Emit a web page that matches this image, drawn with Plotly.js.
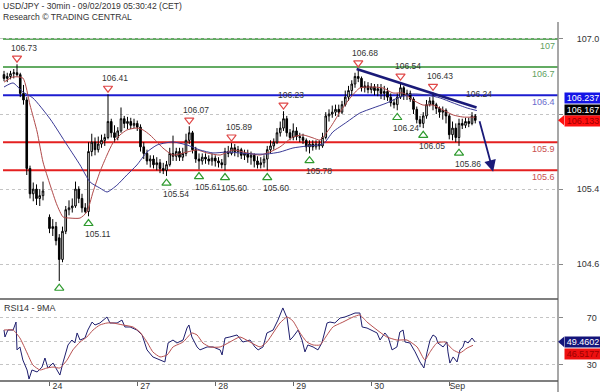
<!DOCTYPE html>
<html><head><meta charset="utf-8">
<script src="https://cdn.plot.ly/plotly-3.0.1.min.js"></script>
<style>html,body{margin:0;padding:0;background:#fff}#chart{width:600px;height:392px}</style>
</head><body><div id="chart"></div>
<script>
// x = hourly bar index (0 = Fri 23 Aug morning CET); weekend gap after bar 12
const barX = [0,1,2,3,4,5,6,7,8,9,10,11,12,
 14,15,16,17,18,19,20,21,22,23,24,25,26,27,28,29,30,31,32,33,34,35,36,37,38,39,40,41,42,43,44,45,46,47,48,49,
 50,51,52,53,54,55,56,57,58,59,60,61,62,63,64,65,66,67,68,69,70,71,72,73,74,75,76,77,78,79,
 80,81,82,83,84,85,86,87,88,89,90,91,92,93,94,95,96,97,98,99,100,101,102,103,104,105,106,107,108,109,
 110,111,112,113,114,115,116,117,118,119,120,121,122,123,124,125,126,127,128,129,130,131,132,133,134,135,136,137,138,139,
 140,141,142,143,144,145];
const barOpen = [106.62,106.58,106.60,106.63,106.64,106.62,106.42,106.35,105.62,105.35,105.40,105.30,105.33,
 105.10,104.98,105.00,104.88,104.65,104.95,105.18,105.20,105.22,105.40,105.30,105.20,105.16,105.80,105.90,105.82,105.88,105.92,105.95,106.12,106.00,105.95,106.02,106.15,106.10,106.12,106.08,106.10,106.06,105.85,105.78,105.70,105.72,105.66,105.68,105.62,
 105.60,105.66,105.78,105.75,105.80,105.74,105.78,105.92,106.00,105.82,105.72,105.70,105.74,105.72,105.70,105.73,105.70,105.68,105.66,105.80,105.78,105.84,105.80,105.82,105.76,105.78,105.74,105.76,105.70,105.66,
 105.68,105.72,105.82,105.86,105.90,106.00,106.05,106.15,106.00,105.95,106.02,105.96,105.95,105.92,105.85,105.88,105.85,105.88,105.86,105.95,106.18,106.20,106.22,106.25,106.22,106.30,106.38,106.45,106.52,106.60,
 106.58,106.48,106.50,106.46,106.49,106.45,106.47,106.42,106.44,106.38,106.32,106.30,106.38,106.48,106.40,106.42,106.36,106.25,106.14,106.10,106.18,106.30,106.34,106.30,106.26,106.22,106.24,106.18,105.98,106.05,
 105.95,106.10,106.08,106.12,106.10,106.18];
const barHigh = [106.66,106.64,106.66,106.68,106.73,106.64,106.51,106.38,105.65,105.47,105.45,105.40,105.48,
 105.13,105.08,105.05,104.92,105.00,105.22,105.28,105.30,105.48,105.43,105.35,105.25,105.90,105.99,105.95,105.96,105.98,105.99,106.41,106.15,106.08,106.06,106.27,106.18,106.17,106.16,106.15,106.13,106.09,105.90,105.82,105.76,105.76,105.74,105.72,105.68,
 105.70,105.84,105.97,105.84,105.84,105.84,105.99,106.07,106.02,105.85,105.78,105.78,105.78,105.76,105.78,105.76,105.74,105.72,105.84,105.86,105.89,105.88,105.86,105.84,105.82,105.82,105.80,105.78,105.75,105.74,
 105.76,105.86,105.92,105.94,106.05,106.12,106.23,106.18,106.04,106.10,106.06,106.00,105.99,105.94,105.92,105.92,105.92,105.92,106.00,106.22,106.25,106.29,106.30,106.30,106.34,106.45,106.50,106.56,106.64,106.68,
 106.60,106.55,106.54,106.53,106.52,106.52,106.52,106.50,106.48,106.42,106.36,106.42,106.54,106.50,106.46,106.45,106.38,106.28,106.18,106.22,106.35,106.38,106.43,106.32,106.28,106.28,106.26,106.20,106.12,106.10,
 106.15,106.15,106.16,106.16,106.22,106.20];
const barLow = [106.55,106.54,106.57,106.58,106.60,106.38,106.30,105.55,105.30,105.27,105.23,105.22,105.28,
 104.93,104.90,104.80,104.42,104.62,104.92,105.12,105.15,105.20,105.25,105.15,105.14,105.11,105.75,105.76,105.79,105.84,105.86,105.93,105.95,105.90,105.92,106.00,106.05,106.04,106.04,106.05,106.02,105.80,105.72,105.66,105.63,105.62,105.60,105.57,105.56,
 105.54,105.64,105.70,105.70,105.70,105.70,105.75,105.88,105.78,105.68,105.61,105.66,105.67,105.66,105.65,105.64,105.63,105.62,105.60,105.74,105.76,105.75,105.74,105.72,105.71,105.68,105.66,105.63,105.62,105.62,
 105.63,105.60,105.78,105.82,105.88,105.96,106.02,105.96,105.92,105.92,105.92,105.90,105.88,105.80,105.78,105.81,105.82,105.82,105.84,105.93,106.12,106.16,106.18,106.17,106.20,106.28,106.34,106.40,106.48,106.54,
 106.44,106.43,106.42,106.42,106.40,106.39,106.36,106.35,106.34,106.28,106.26,106.24,106.36,106.35,106.35,106.33,106.20,106.10,106.06,106.05,106.15,106.28,106.24,106.20,106.16,106.14,106.10,105.93,105.92,105.90,
 105.86,106.04,106.05,106.06,106.08,106.10];
const barClose = [106.58,106.60,106.63,106.64,106.62,106.42,106.35,105.62,105.35,105.40,105.30,105.33,105.38,
 104.98,105.00,104.85,104.65,104.95,105.18,105.20,105.22,105.40,105.30,105.20,105.16,105.80,105.90,105.82,105.88,105.92,105.95,106.12,106.00,105.95,106.02,106.15,106.10,106.12,106.08,106.10,106.06,105.85,105.78,105.70,105.72,105.66,105.68,105.62,105.60,
 105.66,105.78,105.75,105.80,105.74,105.78,105.92,106.00,105.82,105.72,105.70,105.74,105.72,105.70,105.73,105.70,105.68,105.66,105.80,105.78,105.84,105.80,105.82,105.76,105.78,105.74,105.76,105.70,105.66,105.68,
 105.72,105.82,105.86,105.90,106.00,106.05,106.15,106.00,105.95,106.02,105.96,105.95,105.92,105.85,105.88,105.85,105.88,105.86,105.95,106.18,106.20,106.22,106.25,106.22,106.30,106.38,106.45,106.52,106.60,106.58,
 106.48,106.50,106.46,106.49,106.45,106.47,106.42,106.44,106.38,106.32,106.30,106.38,106.48,106.40,106.42,106.36,106.25,106.14,106.10,106.18,106.30,106.34,106.30,106.26,106.22,106.24,106.18,105.98,106.05,105.95,
 106.10,106.08,106.12,106.10,106.18,106.133];

// moving averages
const maFastX = [0,2.8,5.8,8.0,10.2,12.0,14.2,16.3,18.2,20.3,23.4,25.5,27.4,29.5,31.7,33.5,35.7,37.8,40.9,42.8,44.9,47.1,48.9,52.0,56.3,59.4,62.5,66.5,70.5,74.8,78.8,81.8,84.9,88.9,92.0,95.1,97.2,100.3,103.4,106.5,109.5,112.6,116.6,119.7,122.8,125.8,128.9,132.0,135.1,138.2,141.2,145];
const maFastY = [106.54,106.595,106.584,106.296,106.009,105.689,105.443,105.23,105.102,105.091,105.091,105.156,105.369,105.582,105.763,105.891,105.977,106.03,106.051,106.03,105.977,105.902,105.838,105.763,105.795,105.817,105.785,105.763,105.817,105.785,105.763,105.795,105.849,105.955,105.977,105.945,105.923,106.051,106.222,106.371,106.478,106.488,106.478,106.424,106.424,106.35,106.296,106.296,106.243,106.19,106.168,106.167];
const maSlowX = [0,2.8,5.8,8.9,14.2,19.4,23.4,26.5,29.5,31.7,34.8,37.8,40.9,44.0,47.1,49.5,52.0,56.3,60.3,64.3,68.6,72.6,76.6,80.9,84.9,88.9,93.2,98.2,101.2,105.5,109.5,113.5,117.8,121.8,125.8,130.2,134.2,138.2,142.5,145.5];
const maSlowY = [106.488,106.531,106.435,106.371,106.147,105.87,105.657,105.475,105.411,105.369,105.443,105.55,105.657,105.795,105.87,105.891,105.902,105.87,105.817,105.785,105.795,105.785,105.774,105.774,105.795,105.838,105.859,105.881,106.009,106.115,106.211,106.264,106.318,106.382,106.414,106.403,106.371,106.318,106.264,106.237];

// RSI(14) and its 9-period MA
const rsiX = [0,0.3,1.2,2.8,3.7,4.0,4.9,5.8,7.1,7.7,8.6,10.2,11.7,12.6,13.5,15.1,16.3,17.2,18.2,19.7,20.9,21.8,22.5,23.4,24.9,25.8,27.1,28.0,29.5,31.7,32.6,34.8,36.3,37.2,38.8,40.9,42.5,44.0,45.8,48.0,49.5,50.5,52.0,53.2,55.1,56.3,56.9,57.8,59.4,60.3,62.5,64.3,66.5,67.1,68.0,69.5,71.7,73.5,75.7,77.2,78.2,79.7,80.9,82.8,84.3,85.8,87.1,88.0,88.9,90.5,91.7,92.6,93.5,95.1,96.6,97.8,99.4,100.3,101.8,103.4,104.9,106.5,108.0,109.5,110.2,111.7,113.2,114.8,115.7,117.2,118.2,119.4,120.9,121.8,122.8,123.4,124.9,126.5,128.0,129.2,130.2,131.1,132.0,132.9,133.5,135.1,136.3,136.6,137.2,138.2,139.4,140.3,141.2,141.8,142.8,144.0,144.9];
const rsiY = [59.5,53.6,59.5,59.5,66.3,42.6,45.1,34.0,25.5,17.8,25.5,23.8,28.0,35.7,27.2,31.4,25.5,21.2,32.3,46.8,51.0,48.5,57.0,51.0,52.7,59.5,66.3,63.8,65.5,70.6,65.5,65.5,68.0,62.1,62.1,59.5,55.3,42.6,36.6,34.0,32.3,48.5,51.0,48.5,51.0,61.2,63.8,53.6,45.1,42.6,45.1,45.1,42.6,38.3,52.7,53.6,55.3,49.3,51.0,45.1,42.6,45.1,57.0,59.5,68.0,78.3,69.7,51.0,53.6,59.5,51.0,40.9,46.8,45.1,42.6,48.5,65.5,66.3,65.5,69.7,70.6,72.3,74.0,74.0,62.1,61.2,59.5,57.0,51.0,57.0,53.6,42.6,45.1,57.8,59.5,49.3,48.5,40.9,32.3,27.2,40.9,51.0,55.3,53.6,48.5,45.1,49.3,40.9,31.4,36.6,32.3,42.6,45.1,50.2,48.5,52.7,49.4602];
const rsiMaX = [0,2.8,4.9,7.1,8.9,11.1,13.2,15.1,17.2,19.4,21.2,23.4,25.5,27.4,29.5,31.7,33.5,36.6,39.7,41.8,44.0,45.8,48.0,50.2,52.0,55.1,57.8,59.4,61.2,63.4,66.5,69.5,72.6,75.7,78.8,80.9,82.8,84.9,87.1,88.9,91.1,93.2,95.1,97.2,99.4,101.2,104.3,107.4,109.5,111.7,114.8,117.8,120.9,124.0,127.1,129.5,131.1,133.2,135.7,138.2,140.3,142.5,144.3];
const rsiMaY = [59.5,59.5,52.7,40.0,29.7,25.5,27.2,28.0,27.2,34.0,42.6,49.3,53.6,59.5,63.8,65.5,65.5,63.8,62.1,57.8,49.3,40.9,36.6,38.3,45.1,49.3,57.0,55.3,48.5,45.1,45.1,49.3,53.6,49.3,45.1,49.3,57.0,65.5,70.6,67.2,57.0,49.3,46.8,46.8,55.3,62.1,66.3,70.6,72.3,66.3,59.5,53.6,51.0,51.0,45.1,34.0,40.9,48.5,49.3,42.6,40.0,44.2,46.5177];

// pivots
const pivHighX = [4,32,57,70,86,109,122,132];
const pivHighY = [106.73,106.41,106.07,105.89,106.23,106.68,106.54,106.43];
const pivLowX = [17,26,50,60,68,81,94,121,129,140];
const pivLowY = [104.42,105.11,105.54,105.61,105.60,105.60,105.78,106.24,106.05,105.86];
const pivLowShown = [false,true,true,true,true,true,true,true,true,true];

// drawn levels and objects
const levels = [107, 106.7, 106.4, 105.9, 105.6];
const levelText = ['107','106.7','106.4','105.9','105.6'];
const trendX = [108.5,145.4];
const trendY = [106.68,106.27];
const trendLabel = '106.24';
const arrowX = [146.2,150.5];
const arrowY = [106.14,105.585];

// axis ticks (labels under the value tags are hidden in the original)
const xTickVals = [14,41,65,89,113,137];
const xTickText = ['24','27','28','29','30','Sep'];
const yTickVals = [104.6,105.4,106.2,107.0];
const yTickText = ['104.6','105.4','','107.0'];
const rsiTickVals = [30,50,70];
const rsiTickText = ['30','','70'];

const lastPrice = barClose[barClose.length-1];
const lastFast = maFastY[maFastY.length-1];
const lastSlow = maSlowY[maSlowY.length-1];
const lastRsi = rsiY[rsiY.length-1];
const lastRsiMa = rsiMaY[rsiMaY.length-1];

const FONT = 'Liberation Sans, Arial, sans-serif';
const GREEN='#2f8f2f', BLUE='#1c1cd0', RED='#e42020', NAVY='#1a1a78';
const levelColors = [GREEN,GREEN,BLUE,RED,RED];
const levelTextColors = ['#5f9f5f','#5f9f5f','#6a6acc','#c95050','#c95050'];
const levelWidths = [1.5,1.5,1.8,2,2];

const traces = [
 {type:'candlestick', x:barX, open:barOpen, high:barHigh, low:barLow, close:barClose,
  increasing:{line:{color:'#000',width:1}, fillcolor:'#ffffff'},
  decreasing:{line:{color:'#000',width:1}, fillcolor:'#000000'},
  whiskerwidth:0, hoverinfo:'skip', xaxis:'x', yaxis:'y'},
 {type:'scatter', mode:'lines', x:maFastX, y:maFastY, line:{color:'#b04848',width:1,shape:'spline',smoothing:0.6}, hoverinfo:'skip', xaxis:'x', yaxis:'y'},
 {type:'scatter', mode:'lines', x:maSlowX, y:maSlowY, line:{color:'#3a3a96',width:1,shape:'spline',smoothing:0.6}, hoverinfo:'skip', xaxis:'x', yaxis:'y'},
 {type:'scatter', mode:'markers', x:pivHighX, y:pivHighY.map(v=>v+0.065),
  marker:{symbol:'triangle-down-open', size:8, color:'#e04848', line:{width:1.2}}, cliponaxis:false, hoverinfo:'skip', xaxis:'x', yaxis:'y'},
 {type:'scatter', mode:'markers', x:pivLowX, y:pivLowY.map(v=>v-0.077),
  marker:{symbol:'triangle-up-open', size:8, color:'#2e9a2e', line:{width:1.2}}, cliponaxis:false, hoverinfo:'skip', xaxis:'x', yaxis:'y'},
 {type:'scatter', mode:'lines', x:rsiX, y:rsiY, line:{color:'#1e1e6e',width:1}, hoverinfo:'skip', xaxis:'x', yaxis:'y2'},
 {type:'scatter', mode:'lines', x:rsiMaX, y:rsiMaY, line:{color:'#b85050',width:1,shape:'spline',smoothing:0.5}, hoverinfo:'skip', xaxis:'x', yaxis:'y2'}
];

const shapes = [];
levels.forEach((lv,i)=>{
  shapes.push({type:'line', xref:'paper', yref:'y', x0:0.0054, x1:1, y0:lv, y1:lv, line:{color:levelColors[i], width:levelWidths[i]}, layer:'below'});
});
shapes.push({type:'line', xref:'x', yref:'y', x0:trendX[0], y0:trendY[0], x1:trendX[1], y1:trendY[1], line:{color:NAVY,width:2.5}});
// panel frame lines
shapes.push({type:'line', xref:'paper', yref:'paper', x0:1, x1:1, y0:-0.031, y1:1, line:{color:'#8a8a8a',width:1.5}});
shapes.push({type:'line', xref:'paper', yref:'paper', x0:0, x1:1, y0:0.2284, y1:0.2284, line:{color:'#555',width:1.5}});
shapes.push({type:'line', xref:'paper', yref:'paper', x0:0, x1:1, y0:0, y1:0, line:{color:'#555',width:1.5}});
// pointer tips of value tags
const tipW = 0.0108, tipHP = 0.053, tipHR = 4.3;
shapes.push({type:'path', xref:'paper', yref:'y', path:`M 1 ${lastPrice} L ${1+tipW} ${lastPrice+tipHP} L ${1+tipW} ${lastPrice-tipHP} Z`, fillcolor:'#ff1010', line:{width:0}});
shapes.push({type:'path', xref:'paper', yref:'y2', path:`M 1 ${lastRsi} L ${1+tipW} ${lastRsi+tipHR} L ${1+tipW} ${lastRsi-tipHR} Z`, fillcolor:'#14147a', line:{width:0}});

const ann = [];
ann.push({xref:'paper', yref:'paper', x:0, y:1.0432, xanchor:'left', yanchor:'middle', xshift:1, showarrow:false,
  text:'USD/JPY - 30min - 09/02/2019 05:30:42 (CET)', font:{family:FONT,size:8.6,color:'#333'}});
ann.push({xref:'paper', yref:'paper', x:0, y:1.0153, xanchor:'left', yanchor:'middle', xshift:1, showarrow:false,
  text:'Research © TRADING CENTRAL', font:{family:FONT,size:8.6,color:'#333'}});
ann.push({xref:'paper', yref:'paper', x:0, y:0.2256, xanchor:'left', yanchor:'top', xshift:2, yshift:-1, showarrow:false,
  text:'RSI14 - 9MA', font:{family:FONT,size:9,color:'#333'}});
levels.forEach((lv,i)=>{
  ann.push({xref:'paper', yref:'y', x:1, y:lv, xanchor:'right', yanchor:'middle', xshift:-1, yshift:-7, showarrow:false,
    text:levelText[i], font:{family:FONT,size:9,color:levelTextColors[i]}});
});
pivHighX.forEach((x,i)=>{
  ann.push({xref:'x', yref:'y', x:x, y:pivHighY[i], xshift:7, yshift:16, showarrow:false,
    text:pivHighY[i].toFixed(2), font:{family:FONT,size:8.5,color:'#333'}});
});
pivLowX.forEach((x,i)=>{
  if(!pivLowShown[i]) return;
  ann.push({xref:'x', yref:'y', x:x, y:pivLowY[i], xshift:9, yshift:-18, showarrow:false,
    text:pivLowY[i].toFixed(2), font:{family:FONT,size:8.5,color:'#333'}});
});
ann.push({xref:'x', yref:'y', x:trendX[1], y:trendY[1], xshift:2, yshift:13, showarrow:false,
  text:trendLabel, font:{family:FONT,size:8.5,color:'#333'}});
ann.push({xref:'x', yref:'y', x:arrowX[1], y:arrowY[1], ax:arrowX[0], ay:arrowY[0], axref:'x', ayref:'y',
  showarrow:true, arrowhead:2, arrowsize:1.3, arrowwidth:1.8, arrowcolor:NAVY, text:''});
// value tags
function tag(yref, y, txt, bg, fg, ys, xs){
  return {xref:'paper', yref:yref, x:1, y:y, xanchor:'left', yanchor:'middle', xshift:xs, yshift:ys, showarrow:false,
    text:txt, bgcolor:bg, width:34, height:8, borderpad:1, font:{family:FONT,size:9,color:fg}};
}
ann.push(tag('y', lastSlow, lastSlow.toFixed(3), '#1414e6', '#ffffff', 12.6, 6));
ann.push(tag('y', lastFast, lastFast.toFixed(3), '#000000', '#ffffff', 7.6, 6));
ann.push(tag('y', lastPrice, lastPrice.toFixed(3), '#ff1010', '#9a0000', -0.8, 6));
ann.push(tag('y2', lastRsi, lastRsi.toFixed(4), '#14147a', '#ffffff', 0, 6));
ann.push(tag('y2', lastRsiMa, lastRsiMa.toFixed(4), '#ee1010', '#9a0000', -8.8, 6));

const layout = {
  width:600, height:392, margin:{l:0,r:42,t:22,b:11},
  paper_bgcolor:'#ffffff', plot_bgcolor:'#ffffff', showlegend:false,
  font:{family:FONT,size:9,color:'#333'},
  xaxis:{range:[-1.23,170.46], anchor:'y2', rangeslider:{visible:false}, showgrid:false, zeroline:false,
    tickmode:'array', tickvals:xTickVals, ticktext:xTickText, ticks:'outside', ticklen:4, tickcolor:'#666',
    ticklabelshift:8, ticklabelstandoff:-8, tickfont:{family:FONT,size:8.8,color:'#333'}, showline:false},
  yaxis:{domain:[0.2312,1], range:[104.239,107.181], side:'right', anchor:'x',
    tickmode:'array', tickvals:yTickVals, ticktext:yTickText, ticks:'outside', ticklen:4, tickcolor:'#888',
    showgrid:true, gridcolor:'#c4c4c4', griddash:'dot', gridwidth:1, zeroline:false, showline:false,
    ticklabelstandoff:12, tickfont:{family:FONT,size:9,color:'#333'}},
  yaxis2:{domain:[0,0.2256], range:[16.13,85.06], side:'right', anchor:'x',
    tickmode:'array', tickvals:rsiTickVals, ticktext:rsiTickText, ticks:'outside', ticklen:4, tickcolor:'#888',
    showgrid:true, gridcolor:'#c4c4c4', griddash:'dot', gridwidth:1, zeroline:false, showline:false,
    ticklabelstandoff:22, tickfont:{family:FONT,size:9,color:'#333'}},
  shapes:shapes, annotations:ann
};
Plotly.newPlot('chart', traces, layout, {staticPlot:true, displayModeBar:false});
</script></body></html>
